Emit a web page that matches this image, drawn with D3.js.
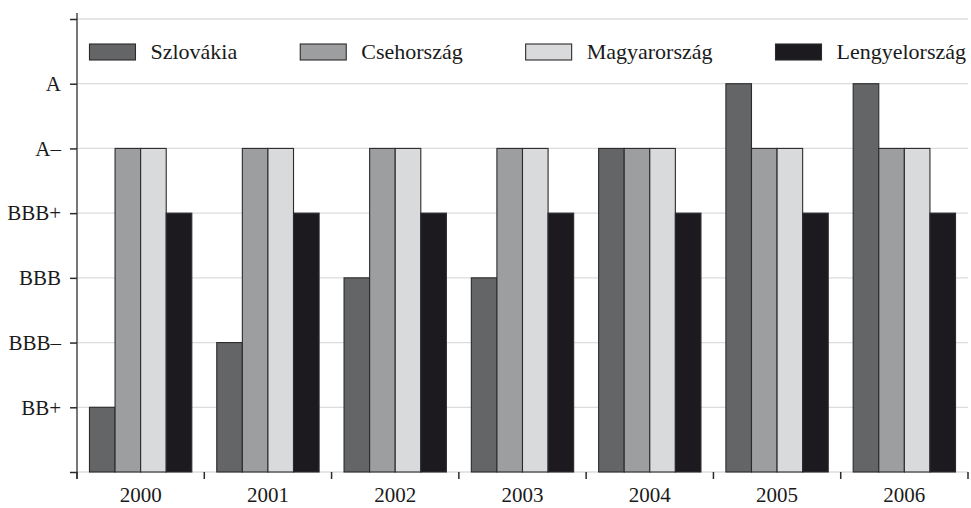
<!DOCTYPE html>
<html>
<head>
<meta charset="utf-8">
<script src="https://cdn.jsdelivr.net/npm/d3@7/dist/d3.min.js"></script>
<style>
  body { margin: 0; background: #fff; }
</style>
</head>
<body>
<div id="chart"></div>
<script>
// Years on the x axis
const years = ['2000', '2001', '2002', '2003', '2004', '2005', '2006'];

// Rating scale, index = level on y axis (0 and 7 are unlabelled)
const ratingLabels = ['', 'BB+', 'BBB\u2013', 'BBB', 'BBB+', 'A\u2013', 'A', ''];

// Series
const countries = ['Szlovákia', 'Csehország', 'Magyarország', 'Lengyelország'];
const szlovakia     = [1, 2, 3, 3, 5, 6, 6];
const csehorszag    = [5, 5, 5, 5, 5, 5, 5];
const magyarorszag  = [5, 5, 5, 5, 5, 5, 5];
const lengyelorszag = [4, 4, 4, 4, 4, 4, 4];
const seriesValues = [szlovakia, csehorszag, magyarorszag, lengyelorszag];

const colors = ['#646567', '#9d9ea0', '#d9dadc', '#1c1a1f'];

const FONT = '"Liberation Serif", "Times New Roman", "DejaVu Serif", serif';

const W = 971, H = 508;
const margin = { top: 19, right: 3, bottom: 36, left: 77 };
const width = W - margin.left - margin.right;
const height = H - margin.top - margin.bottom;

const svg = d3.select('#chart')
    .append('svg')
    .attr('width', W)
    .attr('height', H);

const g = svg.append('g')
    .attr('transform', `translate(${margin.left},${margin.top})`);

// Scales
const x0 = d3.scaleBand()
    .domain(years)
    .range([0, width])
    .paddingInner(0.196)
    .paddingOuter(0.098);

const x1 = d3.scaleBand()
    .domain(countries)
    .range([0, x0.bandwidth()]);

const y = d3.scaleLinear()
    .domain([0, ratingLabels.length - 1])
    .range([height, 0]);

const color = d3.scaleOrdinal().domain(countries).range(colors);

const levels = d3.range(ratingLabels.length);

// Gridlines
g.append('g')
    .selectAll('line')
    .data(levels)
    .enter()
    .append('line')
    .attr('x1', 0)
    .attr('x2', width)
    .attr('y1', d => y(d))
    .attr('y2', d => y(d))
    .attr('stroke', '#dcdcdc')
    .attr('stroke-width', 1.3);

// Bars
const data = years.flatMap((yr, i) => countries.map((c, j) => ({
    year: yr, country: c, value: seriesValues[j][i]
})));

g.selectAll('.bar')
    .data(data)
    .enter()
    .append('rect')
    .attr('class', 'bar')
    .attr('x', d => x0(d.year) + x1(d.country))
    .attr('y', d => y(d.value))
    .attr('width', x1.bandwidth())
    .attr('height', d => y(0) - y(d.value))
    .attr('fill', d => color(d.country))
    .attr('stroke', '#2b2b2d')
    .attr('stroke-width', 1.1);

// Y axis
const yAxis = g.append('g')
    .call(d3.axisLeft(y)
        .tickValues(levels)
        .tickFormat(d => ratingLabels[d])
        .tickSize(7)
        .tickSizeOuter(0)
        .tickPadding(9));

yAxis.select('.domain')
    .attr('d', `M0,${-6}V${height + 7}`)
    .attr('stroke', '#4a4a4a')
    .attr('stroke-width', 1.5);

yAxis.selectAll('.tick line')
    .attr('stroke', '#2b2b2b')
    .attr('stroke-width', 1.5);

yAxis.selectAll('.tick text')
    .style('font-family', FONT)
    .style('font-size', '21px')
    .attr('fill', '#1a1a1a');

// X axis: labels centred on groups, ticks at group boundaries
const xAxis = g.append('g')
    .attr('transform', `translate(0,${height})`)
    .call(d3.axisBottom(x0).tickSize(0).tickPadding(15));

xAxis.select('.domain').remove();
xAxis.selectAll('.tick text')
    .style('font-family', FONT)
    .style('font-size', '21px')
    .attr('fill', '#1a1a1a');

const groupEdge = (x0.step() - x0.bandwidth()) / 2;
const boundaries = years.map(yr => x0(yr) - groupEdge).concat([width]);

g.append('g')
    .selectAll('line')
    .data(boundaries)
    .enter()
    .append('line')
    .attr('x1', d => d)
    .attr('x2', d => d)
    .attr('y1', height)
    .attr('y2', height + 7)
    .attr('stroke', '#2b2b2b')
    .attr('stroke-width', 1.5);

// Legend, spread across the plot width
const legend = g.append('g')
    .attr('transform', `translate(0, 25)`);

const swatchW = 46, swatchH = 16, textGap = 15;
const legendStart = x0(years[0]);
const legendEnd = width - 2;

const items = legend.selectAll('.legend-item')
    .data(countries)
    .enter()
    .append('g')
    .attr('class', 'legend-item');

items.append('rect')
    .attr('width', swatchW)
    .attr('height', swatchH)
    .attr('fill', d => color(d))
    .attr('stroke', '#2b2b2d')
    .attr('stroke-width', 1.1);

items.append('text')
    .attr('x', swatchW + textGap)
    .attr('y', swatchH - 1)
    .style('font-family', FONT)
    .style('font-size', '22px')
    .attr('fill', '#1a1a1a')
    .text(d => d);

const itemWidths = [];
items.each(function () {
    itemWidths.push(swatchW + textGap + this.querySelector('text').getComputedTextLength());
});
const gap = (legendEnd - legendStart - d3.sum(itemWidths)) / (countries.length - 1);
let pos = legendStart;
items.attr('transform', (d, i) => {
    const t = `translate(${pos},0)`;
    pos += itemWidths[i] + gap;
    return t;
});
</script>
</body>
</html>
